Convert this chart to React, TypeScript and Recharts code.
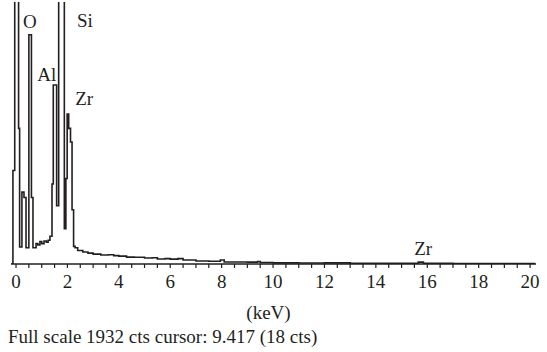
import React from 'react';
import { LineChart, Line, XAxis, YAxis, ReferenceDot } from 'recharts';

// spectrum channels (keV) and counts
const energy = [
  -0.2, -0.12, -0.05, 0.1, 0.14, 0.23, 0.31, 0.39, 0.5, 0.6, 0.66,
  0.78, 0.85, 0.93, 1.0, 1.09, 1.18, 1.25, 1.32, 1.4, 1.45, 1.52, 1.58,
  1.66, 1.88, 1.94, 1.99, 2.05, 2.12, 2.18, 2.24, 2.3, 2.4, 2.6, 2.8,
  3.0, 3.3, 3.6, 3.8, 4.0, 4.3, 4.6, 5.0, 5.3, 5.5, 5.8, 6.0, 6.3, 6.5,
  7.0, 7.5, 7.95, 8.1, 9.0, 9.4, 9.5, 10.0, 11.0, 12.0, 13.0, 14.0,
  15.0, 15.65, 15.85, 17.0, 20.2,
];
const counts = [
  0, 690, 2500, 1000, 125, 530, 490, 120, 1690, 490, 120,
  150, 140, 165, 150, 170, 160, 175, 205, 590, 1320, 1320, 430,
  2500, 260, 630, 1105, 1000, 900, 400, 130, 120, 100, 88, 80,
  73, 66, 68, 62, 58, 51, 50, 44, 46, 37, 40, 36, 40, 29,
  22, 20, 30, 15, 14, 18, 11, 8, 7, 8, 6, 5,
  5, 14, 5, 3, 3,
];

const tickValues = [
  0, 0.5, 1, 1.5, 2, 2.5, 3, 3.5, 4, 4.5, 5, 5.5, 6, 6.5, 7, 7.5, 8, 8.5,
  9, 9.5, 10, 10.5, 11, 11.5, 12, 12.5, 13, 13.5, 14, 14.5, 15, 15.5, 16,
  16.5, 17, 17.5, 18, 18.5, 19, 19.5, 20,
];
const labelledTicks = [0, 2, 4, 6, 8, 10, 12, 14, 16, 18, 20];

const peakNames = ['O', 'Si', 'Al', 'Zr', 'Zr'];
const peakEnergy = [0.54, 2.68, 1.2, 2.65, 15.84];
const peakCounts = [1790, 1800, 1400, 1220, 118];

const fullScale = 1932;
const footer = 'Full scale 1932 cts cursor: 9.417 (18 cts)';

const data = energy.map((e, i) => ({ e, c: counts[i] }));

const font = '"Liberation Serif", "Times New Roman", serif';
const ink = '#231f20';

const Tick = (props: any) => {
  const { x, y, payload } = props;
  if (!labelledTicks.includes(payload.value)) return null;
  return (
    <text x={x} y={y} dy="0.71em" textAnchor="middle" fontFamily={font} fontSize={19} fill={ink}>
      {payload.value}
    </text>
  );
};

export default function App() {
  return (
    <div style={{ position: 'absolute', left: 0, top: 0, width: 547, height: 352, background: '#fff' }}>
      <LineChart width={547} height={330} data={data} margin={{ top: 2, right: 11, left: 11, bottom: 0 }}>
        <XAxis
          dataKey="e"
          type="number"
          domain={[-0.195, 20.23]}
          ticks={tickValues}
          interval={0}
          tick={<Tick />}
          tickSize={4}
          tickMargin={7}
          height={66}
          axisLine={{ stroke: ink, strokeWidth: 1.5 }}
          tickLine={{ stroke: ink, strokeWidth: 1.2 }}
          allowDataOverflow
          label={{ value: '(keV)', position: 'insideBottom', offset: 11, dx: -5, fontFamily: font, fontSize: 19, fill: ink }}
        />
        <YAxis hide domain={[0, fullScale]} allowDataOverflow />
        <Line
          type="stepAfter"
          dataKey="c"
          stroke={ink}
          strokeWidth={1.6}
          dot={false}
          isAnimationActive={false}
        />
        {peakNames.map((n, i) => (
          <ReferenceDot
            key={i}
            x={peakEnergy[i]}
            y={peakCounts[i]}
            r={0}
            ifOverflow="visible"
            label={{ value: n, position: 'center', fontFamily: font, fontSize: 19, fill: ink }}
          />
        ))}
      </LineChart>
      <div
        style={{
          position: 'absolute',
          left: 8,
          top: 326,
          lineHeight: '22px',
          fontFamily: font,
          fontSize: 19,
          color: ink,
          whiteSpace: 'nowrap',
        }}
      >
        {footer}
      </div>
    </div>
  );
}
